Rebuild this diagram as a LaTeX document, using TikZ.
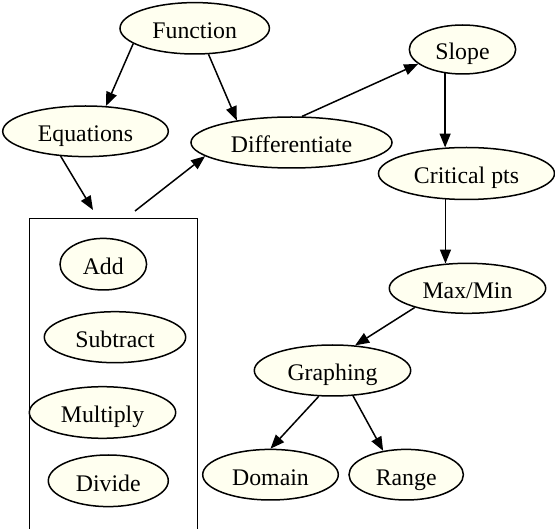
\documentclass[tikz,border=0pt]{standalone}
\usepackage{fontspec}
\setmainfont{Liberation Serif}
\usetikzlibrary{shapes.geometric,arrows.meta}
\definecolor{nodefill}{RGB}{255,255,240}
\tikzset{
  bubble/.style={ellipse, draw, line width=1.5pt, fill=nodefill, inner sep=0pt,
    text height=24pt, text depth=3pt,
    font=\fontsize{23.8}{28}\selectfont},
  link/.style={line width=1.5pt, -{Triangle[length=14pt,width=11pt]}},
  frame/.style={line width=1.5pt}
}
\newcommand{\bub}[5]{\node[bubble, minimum width=#3pt, minimum height=#4pt] (#1) at (#2) {#5};}
\begin{document}
\begin{tikzpicture}[x=1pt,y=-1pt]
  \useasboundingbox (0,0) rectangle (555,529);

  % container of the four operations (bottom edge runs off the page)
  \draw[frame] (29.3,530) -- (29.3,218.3) -- (197.3,218.3) -- (197.3,530);

  % nodes
  \bub{fn}{194.7,28.3}{149.4}{51.4}{Function}
  \bub{eq}{85.5,131.3}{165.6}{50.6}{Equations}
  \bub{df}{291.5,142.5}{201}{51}{Differentiate}
  \bub{sl}{462.5,49.5}{106.4}{49}{Slope}
  \bub{cp}{466.5,173.5}{176}{52}{Critical pts}
  \bub{mm}{467.5,288.3}{156.4}{50}{Max/Min}
  \bub{gr}{332.5,370.5}{156.4}{51}{Graphing}
  \bub{dm}{270.5,474.7}{135.6}{50.6}{Domain}
  \bub{rg}{406.2,474.7}{114.4}{50.6}{Range}
  \bub{add}{103.3,264.2}{86.6}{51.6}{Add}
  \bub{sub}{115,337.2}{141.4}{51}{Subtract}
  \bub{mul}{102.5,412.5}{146.4}{51.6}{Multiply}
  \bub{div}{108.3,480.8}{120}{51.6}{Divide}

  % entry and exit points of the container
  \coordinate (boxin) at (93,210);
  \coordinate (boxout) at (135,211);

  % connectors
  \draw[link] (fn.194.6) -- (eq.51.6);
  \draw[link] (fn.298.3) -- (df.158);
  \draw[link] (eq.225.5) -- (boxin);
  \draw[link] (boxout) -- (df.189.3);
  \draw[link] (df.68.4) -- (sl.198.8);
  \draw[link] (sl.234.7) -- (sl.234.7 |- cp.129);
  \draw[link] (cp.231) -- (cp.231 |- mm.131.9);
  \draw[link] (mm.200) -- (gr.48.7);
  \draw[link] (gr.242.8) -- (dm.north);
  \draw[link] (gr.309.4) -- (rg.134.6);
\end{tikzpicture}
\end{document}
